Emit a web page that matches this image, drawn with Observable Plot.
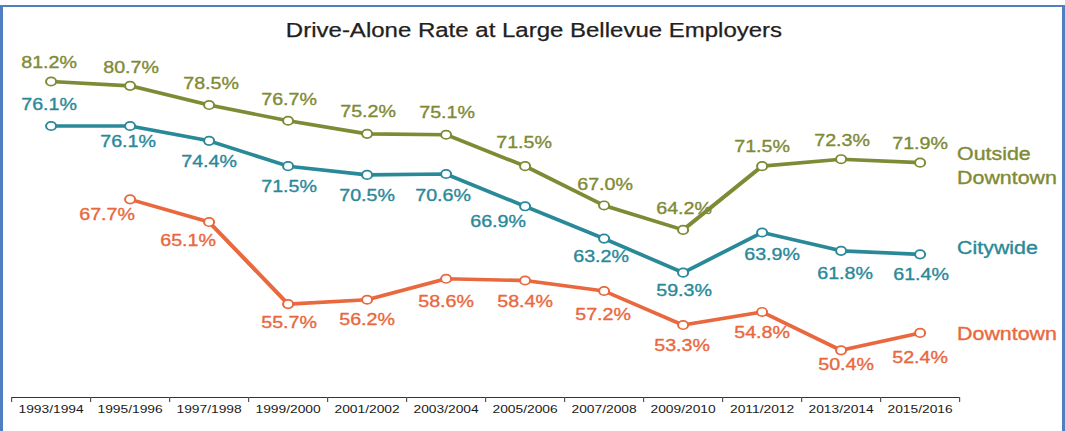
<!DOCTYPE html>
<html>
<head>
<meta charset="utf-8">
<script src="https://cdn.jsdelivr.net/npm/d3@7"></script>
<script src="https://cdn.jsdelivr.net/npm/@observablehq/plot@0.6"></script>
<style>
  html, body { margin: 0; padding: 0; background: #fff; overflow: hidden; width: 1065px; height: 431px; }
  #frame { position: absolute; left: 0; top: 5px; width: 1059px; height: 424px;
           border-style: solid; border-color: #4f7fc0; border-width: 2px 3px 0 3px; }
  #title { position: absolute; top: 19px; left: 534px; white-space: nowrap;
           font-family: "Liberation Sans", Arial, sans-serif; font-size: 20px; line-height: 22px;
           color: #231f20; transform: translateX(-50%) scaleX(1.2); -webkit-text-stroke: 0.25px #231f20; }
  #chart { position: absolute; left: 0; top: 0; width: 1065px; height: 431px; overflow: hidden; }
</style>
</head>
<body>
<div id="frame"></div>
<div id="title">Drive-Alone Rate at Large Bellevue Employers</div>
<div id="chart"></div>
<script>
// ---- data ----
const years = ["1993/1994","1995/1996","1997/1998","1999/2000","2001/2002","2003/2004",
               "2005/2006","2007/2008","2009/2010","2011/2012","2013/2014","2015/2016"];
const outsideDowntown = [81.2, 80.7, 78.5, 76.7, 75.2, 75.1, 71.5, 67.0, 64.2, 71.5, 72.3, 71.9];
const citywide        = [76.1, 76.1, 74.4, 71.5, 70.5, 70.6, 66.9, 63.2, 59.3, 63.9, 61.8, 61.4];
const downtown        = [null, 67.7, 65.1, 55.7, 56.2, 58.6, 58.4, 57.2, 53.3, 54.8, 50.4, 52.4];
const seriesNames = ["Outside\nDowntown", "Citywide", "Downtown"];

// ---- label placement (pixel offsets from each point) ----
const outsideOff = [[-2,-19],[1,-18],[2,-21],[1,-21],[1,-22],[1,-22],[-1,-23],[1,-21],[1,-21],[0,-19],[1,-18],[0,-19]];
const cityOff    = [[-2,-21],[-2,16],[0,21],[1,21],[0,21],[-3,22],[-27,15],[-3,18],[1,18],[10,22],[4,23],[1,20]];
const downOff    = [null,[-23,15],[-21,19],[1,19],[0,20],[0,23],[0,21],[-1,24],[-1,21],[0,21],[5,14],[0,25]];
const nameOff    = [[37,2],[37,-8],[37,-1]];

const S = 1.2;             // horizontal stretch of the reference
const W = 1065 / S;
const colors = ["#7f8a35", "#2a8999", "#e9683d"];
const valueSets = [outsideDowntown, citywide, downtown];
const offSets = [outsideOff, cityOff, downOff];

const marks = [];
// axis line + boundary ticks + labels
marks.push(Plot.ruleY([45], {stroke: "#333", strokeWidth: 1}));
marks.push(Plot.axisX({ticks: d3.range(13).map(i => i - 0.5), tickFormat: () => "", tickSize: 5,
                       stroke: "#555", label: null}));
marks.push(Plot.axisX({ticks: d3.range(12), tickFormat: i => years[i], tickSize: 0, tickPadding: 7,
                       fontSize: 11.5, fill: "#1a1a1a", label: null}));

valueSets.forEach((vals, s) => {
  const rows = vals.map((v, i) => ({i, v})).filter(d => d.v != null);
  marks.push(Plot.line(rows, {x: "i", y: "v", stroke: colors[s], strokeWidth: 3.6, strokeLinejoin: "round"}));
  marks.push(Plot.dot(rows, {x: "i", y: "v", r: 4.2, fill: "white", stroke: colors[s], strokeWidth: 1.7}));
  rows.forEach(d => {
    const o = offSets[s][d.i];
    marks.push(Plot.text([d], {x: "i", y: "v", text: d => d.v.toFixed(1) + "%",
      dx: o[0] / S, dy: o[1], fill: colors[s], stroke: colors[s], strokeWidth: 0.35, fontSize: 16.4}));
  });
  const last = rows[rows.length - 1];
  marks.push(Plot.text([last], {x: "i", y: "v", text: () => seriesNames[s], textAnchor: "start",
    dx: nameOff[s][0] / S, dy: nameOff[s][1], fill: colors[s], stroke: colors[s], strokeWidth: 0.35,
    fontSize: 17.8, lineHeight: 1.35}));
});

const svg = Plot.plot({
  width: W, height: 431,
  marginLeft: 11 / S, marginRight: (1065 - 959) / S, marginTop: 74, marginBottom: 34,
  x: {domain: [-0.5, 11.5], axis: null, label: null},
  y: {domain: [45, 82], axis: null, label: null},
  style: {fontFamily: "'Liberation Sans', Arial, sans-serif", background: "transparent", overflow: "visible"},
  marks
});
svg.setAttribute("viewBox", `0 0 ${W} 431`);
svg.setAttribute("preserveAspectRatio", "none");
svg.setAttribute("width", 1065);
svg.setAttribute("height", 431);
svg.style.width = "1065px";
svg.style.height = "431px";
svg.style.maxWidth = "none";
document.getElementById("chart").appendChild(svg);
</script>
</body>
</html>
